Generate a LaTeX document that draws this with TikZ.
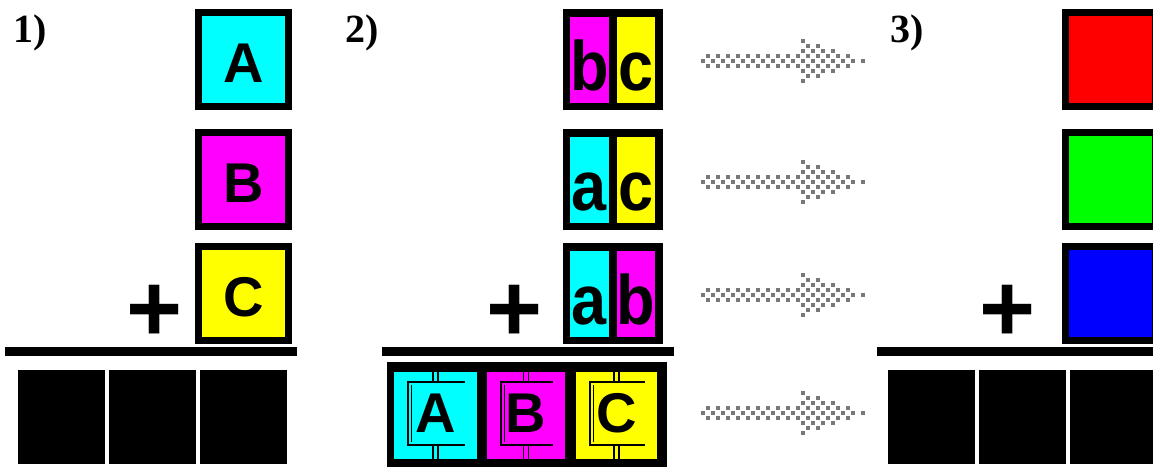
\documentclass[tikz,border=0pt]{standalone}
\usepackage{fontspec}
\usepackage{graphicx}
\newfontfamily\boxfont{Liberation Sans}
\newfontfamily\numfont{Liberation Serif}
\usetikzlibrary{calc}
\definecolor{cy}{RGB}{0,255,255}
\definecolor{mg}{RGB}{255,0,255}
\definecolor{yl}{RGB}{255,255,0}
\definecolor{rd}{RGB}{255,0,0}
\definecolor{gn}{RGB}{0,255,0}
\definecolor{bl}{RGB}{0,0,255}
\definecolor{dotgray}{RGB}{120,120,120}
\newcommand{\capfont}{\boxfont\bfseries\fontsize{56}{56}\selectfont}
\newcommand{\lowfont}{\boxfont\bfseries\fontsize{70}{70}\selectfont}
\newcommand{\lc}[1]{\scalebox{0.9}[1]{#1}}
\begin{document}
\begin{tikzpicture}[x=1pt,y=-1pt,
  sq/.style={draw=black, line width=7pt, minimum width=90pt, minimum height=94pt,
    inner sep=0pt, outer sep=0pt, font=\capfont, text height=45pt, text depth=0pt},
  pairbox/.style={fill=black, minimum width=100pt, minimum height=101pt, inner sep=0pt, outer sep=0pt},
  col/.style={minimum height=86pt, inner sep=0pt, outer sep=0pt, font=\lowfont,
    text height=62pt, text depth=0pt},
  cell/.style={minimum height=87pt, inner sep=0pt, outer sep=0pt, font=\capfont,
    text height=33pt, text depth=0pt},
  blk/.style={fill=black, minimum width=87pt, minimum height=94pt, inner sep=0pt, outer sep=0pt},
  rulebar/.style={line width=9pt},
  plussign/.style={inner sep=0pt, outer sep=0pt, font={\boxfont\bfseries\fontsize{96}{96}\selectfont},
    text height=67pt, text depth=0pt},
  numlabel/.style={anchor=base west, inner sep=0pt, font={\numfont\bfseries\fontsize{40}{40}\selectfont}},
  pixdot/.style={fill=dotgray},
  brk/.style={line width=1.6pt, black}
]
\path[use as bounding box, fill=white] (0,0) rectangle (1153,466);
\clip (0,0) rectangle (1153,466);

% ---------- panel 1 ----------
\node[numlabel] (n1) at (13,42) {1)};
\node[sq, fill=cy] (A1) at (243.5,59.5) {A};
\node[sq, fill=mg] (B1) at (243.5,179.5) {B};
\node[sq, fill=yl] (C1) at (243.5,293.5) {C};
\node[plussign] (p1) at (155,307.5) {+};
\coordinate (l1a) at (5,351.5);
\coordinate (l1b) at (297,351.5);
\draw[rulebar] (l1a) -- (l1b);
\node[blk] (k11) at (61.5,417) {};
\node[blk] (k12) at (152.5,417) {};
\node[blk] (k13) at (243.5,417) {};

% ---------- panel 2 ----------
\node[numlabel] (n2) at (345,42) {2)};
\foreach \nm/\yy/\cl/\cr/\tl/\tr in {bc/59.5/mg/yl/b/c, ac/179.5/cy/yl/a/c, ab/293.5/cy/mg/a/b}{
  \node[pairbox] (\nm) at (613,\yy) {};
  \node[col, fill=\cl, minimum width=39pt] (\nm l) at ([xshift=-23.5pt]\nm.center) {\lc{\tl}};
  \node[col, fill=\cr, minimum width=38pt] (\nm r) at ([xshift=23pt]\nm.center) {\lc{\tr}};
}
\node[plussign] (p2) at (515,307.5) {+};
\coordinate (l2a) at (382,351.5);
\coordinate (l2b) at (674,351.5);
\draw[rulebar] (l2a) -- (l2b);
\node[fill=black, minimum width=280pt, minimum height=106pt, inner sep=0pt, outer sep=0pt] (abc) at (527,415) {};
\node[cell, fill=cy, minimum width=83pt] (cA) at (435.5,415.5) {A};
\node[cell, fill=mg, minimum width=78pt] (cB) at (526,415.5) {B};
\node[cell, fill=yl, minimum width=81pt] (cC) at (616.5,415.5) {C};
\foreach \c in {cA,cB,cC}{
  \draw[brk] ([shift={(-12,10)}]\c.north east) -- ([shift={(14,10)}]\c.north west)
    -- ([shift={(14,-14)}]\c.south west) -- ([shift={(-12,-14)}]\c.south east);
  \draw[brk] ([shift={(17.5,13)}]\c.north west) -- ([shift={(17.5,-17)}]\c.south west);
  \draw[brk] ([xshift=-2.5pt]\c.north) -- ++(0,10);
  \draw[brk] ([xshift=2.5pt]\c.north) -- ++(0,10);
  \draw[brk] ([xshift=-2.5pt]\c.south) -- ++(0,-14);
  \draw[brk] ([xshift=2.5pt]\c.south) -- ++(0,-14);
}

% ---------- dotted arrows ----------
\foreach \k/\yy in {1/61,2/182,3/295,4/413}{
  \coordinate (s\k) at (703,\yy);
  \coordinate (e\k) at (865,\yy);
  \foreach \i in {0,...,32}{
    \foreach \j in {-4,...,4}{
      \pgfmathsetmacro\xx{5*\i}
      \pgfmathsetmacro\lim{(\xx<100) ? 6.5 : 22*(163-\xx)/63}
      \pgfmathparse{(abs(5*\j) <= \lim) && (mod(\i+\j+8,2)==0) ? 1 : 0}
      \ifdim\pgfmathresult pt>0.5pt
        \fill[pixdot] ([shift={(\xx-1.9,5*\j-1.9)}]s\k) rectangle ++(3.8,3.8);
      \fi
    }
  }
}

% ---------- panel 3 ----------
\node[numlabel] (n3) at (890,42) {3)};
\node[sq, fill=rd] (R3) at (1110.5,59.5) {};
\node[sq, fill=gn] (G3) at (1110.5,179.5) {};
\node[sq, fill=bl] (B3) at (1110.5,293.5) {};
\node[plussign] (p3) at (1008,307.5) {+};
\coordinate (l3a) at (877,351.5);
\coordinate (l3b) at (1160,351.5);
\draw[rulebar] (l3a) -- (l3b);
\node[blk] (k31) at (931.5,417) {};
\node[blk] (k32) at (1022.5,417) {};
\node[blk] (k33) at (1113.5,417) {};
\end{tikzpicture}
\end{document}
